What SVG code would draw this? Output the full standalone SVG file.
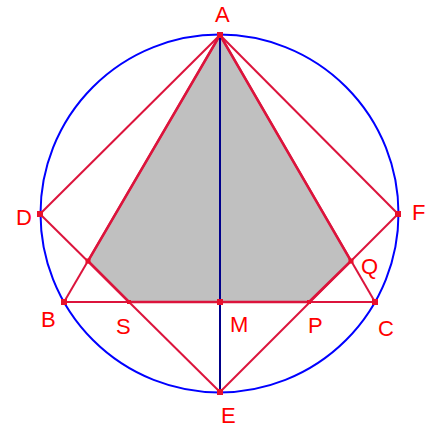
<svg xmlns="http://www.w3.org/2000/svg" width="439" height="428" viewBox="0 0 439 428">
<style>
.ln{stroke:#dc143c;stroke-width:2;fill:none}
.bd{stroke:#dc143c;stroke-width:2.5;fill:none}
.pt{fill:#e8102c}
.lb{font-family:"Liberation Sans",Arial,sans-serif;font-size:22px;fill:#ff0000}
</style>
<rect width="439" height="428" fill="#ffffff"/>
<g id="shade">
<polygon points="220,35 88,261 129,302 309,302 351,261" fill="#c0c0c0" stroke="none"/>
</g>
<g id="connectors">
<circle cx="219.5" cy="213.5" r="179" fill="none" stroke="#0000ff" stroke-width="2"/>
<line class="ln" x1="220" y1="35" x2="40" y2="214"/>
<line class="ln" x1="220" y1="35" x2="398" y2="214"/>
<line class="ln" x1="220" y1="35" x2="64" y2="302"/>
<line class="ln" x1="220" y1="35" x2="375" y2="302"/>
<line class="ln" x1="40" y1="214" x2="220" y2="392"/>
<line class="ln" x1="398" y1="214" x2="220" y2="392"/>
<line class="ln" x1="64" y1="302" x2="375" y2="302"/>
<polyline class="bd" points="220,35 88,261 129,302 309,302 351,261 220,35"/>
<line x1="220" y1="35" x2="220" y2="392" stroke="#00008b" stroke-width="2"/>
</g>
<g id="A"><rect class="pt" x="217" y="32" width="6" height="6"/><text class="lb" x="215" y="22">A</text></g>
<g id="D"><rect class="pt" x="37" y="211" width="6" height="6"/><text class="lb" x="16" y="225">D</text></g>
<g id="F"><rect class="pt" x="395" y="211" width="6" height="6"/><text class="lb" x="412" y="220">F</text></g>
<g id="B"><rect class="pt" x="61" y="299" width="6" height="6"/><text class="lb" x="41" y="327">B</text></g>
<g id="C"><rect class="pt" x="372" y="299" width="6" height="6"/><text class="lb" x="378" y="336">C</text></g>
<g id="M"><rect class="pt" x="217" y="299" width="6" height="6"/><text class="lb" x="230" y="332">M</text></g>
<g id="S"><rect class="pt" x="127" y="300" width="4" height="4"/><text class="lb" x="116" y="334">S</text></g>
<g id="P"><rect class="pt" x="307" y="300" width="4" height="4"/><text class="lb" x="308" y="333">P</text></g>
<g id="Q"><rect class="pt" x="348.5" y="258.5" width="5" height="5"/><text class="lb" x="361" y="274">Q</text></g>
<g id="X"><rect class="pt" x="85.5" y="258.5" width="5" height="5"/></g>
<g id="E"><rect class="pt" x="217" y="389" width="6" height="6"/><text class="lb" x="221" y="423">E</text></g>
</svg>
